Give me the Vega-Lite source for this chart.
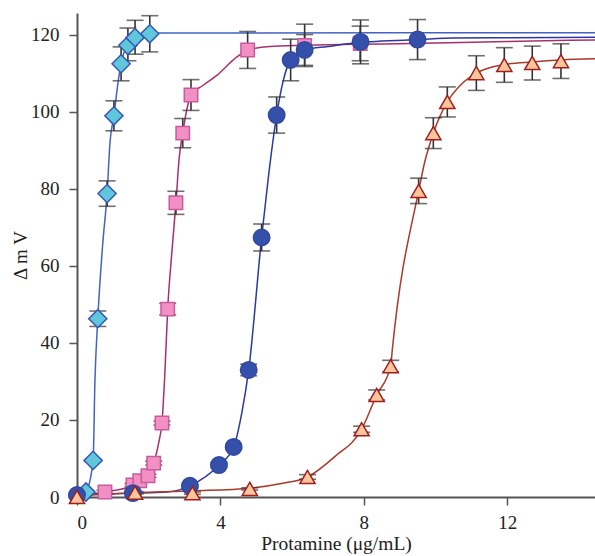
{
  "$schema": "https://vega.github.io/schema/vega-lite/v6.json",
  "autosize": {"type": "none"},
  "padding": {"left": 77, "top": 13, "right": 0, "bottom": 59},
  "width": 518,
  "height": 484,
  "background": "white",
  "config": {"view": {"stroke": null}},
  "datasets": {
    "curves": [
      {"s": "A", "x": 0, "y": 0.3}, {"s": "A", "x": 0.25, "y": 1.5}, {"s": "A", "x": 0.45, "y": 9.5}, {"s": "A", "x": 0.5, "y": 30}, {"s": "A", "x": 0.58, "y": 46.3}, {"s": "A", "x": 0.72, "y": 66}, {"s": "A", "x": 0.84, "y": 78.8}, {"s": "A", "x": 0.92, "y": 92}, {"s": "A", "x": 1.03, "y": 99}, {"s": "A", "x": 1.15, "y": 108}, {"s": "A", "x": 1.25, "y": 113.5}, {"s": "A", "x": 1.42, "y": 117.5}, {"s": "A", "x": 1.62, "y": 119.5}, {"s": "A", "x": 2.03, "y": 120.5}, {"s": "A", "x": 14.45, "y": 120.6},
      {"s": "B", "x": 0, "y": 0.3}, {"s": "B", "x": 0.78, "y": 1.3}, {"s": "B", "x": 1.56, "y": 3.0}, {"s": "B", "x": 1.98, "y": 5.5}, {"s": "B", "x": 2.14, "y": 8.8}, {"s": "B", "x": 2.3, "y": 15}, {"s": "B", "x": 2.37, "y": 19.2}, {"s": "B", "x": 2.45, "y": 32}, {"s": "B", "x": 2.53, "y": 48.8}, {"s": "B", "x": 2.65, "y": 64}, {"s": "B", "x": 2.76, "y": 76.4}, {"s": "B", "x": 2.85, "y": 88}, {"s": "B", "x": 2.95, "y": 94.5}, {"s": "B", "x": 3.05, "y": 100}, {"s": "B", "x": 3.18, "y": 104.4}, {"s": "B", "x": 3.5, "y": 106.8}, {"s": "B", "x": 3.9, "y": 109.5}, {"s": "B", "x": 4.46, "y": 114.3}, {"s": "B", "x": 4.76, "y": 116.1}, {"s": "B", "x": 5.38, "y": 117}, {"s": "B", "x": 6.35, "y": 117.3}, {"s": "B", "x": 8, "y": 117.6}, {"s": "B", "x": 10, "y": 117.9}, {"s": "B", "x": 12, "y": 118.3}, {"s": "B", "x": 14.45, "y": 118.7},
      {"s": "C", "x": 0, "y": 0.5}, {"s": "C", "x": 0.8, "y": 0.8}, {"s": "C", "x": 1.56, "y": 1.0}, {"s": "C", "x": 2.5, "y": 1.3}, {"s": "C", "x": 3.15, "y": 2.9}, {"s": "C", "x": 3.96, "y": 8.3}, {"s": "C", "x": 4.37, "y": 13}, {"s": "C", "x": 4.6, "y": 22}, {"s": "C", "x": 4.79, "y": 33}, {"s": "C", "x": 5.15, "y": 67.4}, {"s": "C", "x": 5.35, "y": 84}, {"s": "C", "x": 5.57, "y": 99.2}, {"s": "C", "x": 5.75, "y": 108}, {"s": "C", "x": 5.96, "y": 113.5}, {"s": "C", "x": 6.35, "y": 116.1}, {"s": "C", "x": 7, "y": 117}, {"s": "C", "x": 7.91, "y": 118.1}, {"s": "C", "x": 8.5, "y": 118.4}, {"s": "C", "x": 9.5, "y": 118.8}, {"s": "C", "x": 10.5, "y": 119.2}, {"s": "C", "x": 12, "y": 119.3}, {"s": "C", "x": 14.45, "y": 119.4},
      {"s": "D", "x": 0, "y": 0.3}, {"s": "D", "x": 1.62, "y": 1.1}, {"s": "D", "x": 3.22, "y": 1.6}, {"s": "D", "x": 4.82, "y": 2.3}, {"s": "D", "x": 5.7, "y": 3.5}, {"s": "D", "x": 6.43, "y": 5.2}, {"s": "D", "x": 7.19, "y": 10.5}, {"s": "D", "x": 7.94, "y": 17.6}, {"s": "D", "x": 8.36, "y": 26.5}, {"s": "D", "x": 8.75, "y": 34}, {"s": "D", "x": 8.8, "y": 38.7}, {"s": "D", "x": 9.53, "y": 79.5}, {"s": "D", "x": 9.7, "y": 87}, {"s": "D", "x": 9.94, "y": 94.5}, {"s": "D", "x": 10.33, "y": 102.6}, {"s": "D", "x": 10.7, "y": 107}, {"s": "D", "x": 11.14, "y": 110.1}, {"s": "D", "x": 11.92, "y": 112.3}, {"s": "D", "x": 12.7, "y": 113}, {"s": "D", "x": 13.5, "y": 113.5}, {"s": "D", "x": 14.45, "y": 113.8}
    ],
    "points": [
      {"s": "A", "x": 0.25, "y": 1.3, "lo": 1.0, "hi": 1.6}, {"s": "A", "x": 0.45, "y": 9.5, "lo": 9.2, "hi": 9.8}, {"s": "A", "x": 0.58, "y": 46.3, "lo": 44.3, "hi": 48.3}, {"s": "A", "x": 0.84, "y": 78.8, "lo": 75.5, "hi": 82.1}, {"s": "A", "x": 1.03, "y": 99, "lo": 95.1, "hi": 102.9}, {"s": "A", "x": 1.23, "y": 112.5, "lo": 108.1, "hi": 116.9}, {"s": "A", "x": 1.42, "y": 117.3, "lo": 113.3, "hi": 121.8}, {"s": "A", "x": 1.62, "y": 119.3, "lo": 115.0, "hi": 123.8}, {"s": "A", "x": 2.03, "y": 120.3, "lo": 115.6, "hi": 125.0},
      {"s": "B", "x": 0.78, "y": 1.3, "lo": 0.9, "hi": 1.7}, {"s": "B", "x": 1.56, "y": 3.1, "lo": 2.7, "hi": 3.5}, {"s": "B", "x": 1.75, "y": 4.2, "lo": 3.8, "hi": 4.6}, {"s": "B", "x": 1.98, "y": 5.5, "lo": 5.1, "hi": 5.9}, {"s": "B", "x": 2.14, "y": 8.8, "lo": 8.3, "hi": 9.3}, {"s": "B", "x": 2.37, "y": 19.2, "lo": 18.7, "hi": 19.7}, {"s": "B", "x": 2.53, "y": 48.8, "lo": 47.3, "hi": 50.3}, {"s": "B", "x": 2.76, "y": 76.4, "lo": 73.4, "hi": 79.4}, {"s": "B", "x": 2.95, "y": 94.5, "lo": 90.7, "hi": 98.3}, {"s": "B", "x": 3.18, "y": 104.4, "lo": 100.4, "hi": 108.4}, {"s": "B", "x": 4.76, "y": 116.1, "lo": 111.3, "hi": 120.9}, {"s": "B", "x": 6.35, "y": 117.3, "lo": 111.8, "hi": 122.8}, {"s": "B", "x": 7.9, "y": 117.8, "lo": 113.3, "hi": 122.3},
      {"s": "C", "x": 0, "y": 0.5, "lo": 0.2, "hi": 0.8}, {"s": "C", "x": 1.56, "y": 1.0, "lo": 0.7, "hi": 1.3}, {"s": "C", "x": 3.15, "y": 2.9, "lo": 2.4, "hi": 3.4}, {"s": "C", "x": 3.96, "y": 8.3, "lo": 7.7, "hi": 8.9}, {"s": "C", "x": 4.37, "y": 13, "lo": 12.4, "hi": 13.6}, {"s": "C", "x": 4.79, "y": 33, "lo": 31.5, "hi": 34.5}, {"s": "C", "x": 5.15, "y": 67.4, "lo": 63.9, "hi": 70.9}, {"s": "C", "x": 5.57, "y": 99.2, "lo": 94.5, "hi": 103.9}, {"s": "C", "x": 5.96, "y": 113.5, "lo": 108.1, "hi": 118.9}, {"s": "C", "x": 6.35, "y": 116.1, "lo": 112.1, "hi": 120.1}, {"s": "C", "x": 7.91, "y": 118.2, "lo": 112.5, "hi": 123.9}, {"s": "C", "x": 9.5, "y": 118.8, "lo": 113.6, "hi": 124.0},
      {"s": "D", "x": 0, "y": 0, "lo": -0.2, "hi": 0.2}, {"s": "D", "x": 1.62, "y": 1.1, "lo": 0.8, "hi": 1.4}, {"s": "D", "x": 3.22, "y": 1.0, "lo": 0.7, "hi": 1.3}, {"s": "D", "x": 4.82, "y": 2.1, "lo": 1.8, "hi": 2.4}, {"s": "D", "x": 6.43, "y": 5.2, "lo": 4.6, "hi": 5.8}, {"s": "D", "x": 7.94, "y": 17.6, "lo": 16.8, "hi": 18.4}, {"s": "D", "x": 8.36, "y": 26.5, "lo": 25.2, "hi": 27.8}, {"s": "D", "x": 8.75, "y": 34, "lo": 32.5, "hi": 35.5}, {"s": "D", "x": 9.53, "y": 79.5, "lo": 76.2, "hi": 82.8}, {"s": "D", "x": 9.94, "y": 94.5, "lo": 90.5, "hi": 98.5}, {"s": "D", "x": 10.33, "y": 102.6, "lo": 98.7, "hi": 106.5}, {"s": "D", "x": 11.14, "y": 110.1, "lo": 105.6, "hi": 114.6}, {"s": "D", "x": 11.92, "y": 112.2, "lo": 107.7, "hi": 116.7}, {"s": "D", "x": 12.7, "y": 112.7, "lo": 108.3, "hi": 117.1}, {"s": "D", "x": 13.5, "y": 113.2, "lo": 108.7, "hi": 117.7}
    ]
  },
  "encoding": {
    "x": {
      "field": "x", "type": "quantitative",
      "scale": {"domain": [0, 14.45], "nice": false, "zero": false},
      "axis": {
        "title": "Protamine (μg/mL)", "values": [0, 4, 8, 12], "grid": false,
        "domainColor": "#555", "domainWidth": 2, "tickColor": "#555", "tickWidth": 1.5, "tickSize": 8,
        "labelFont": "Liberation Serif", "labelFontSize": 19, "labelColor": "#222", "labelPadding": 8,
        "titleFont": "Liberation Serif", "titleFontSize": 19.5, "titleFontWeight": "normal", "titleColor": "#222", "titlePadding": 2
      }
    },
    "y": {
      "field": "y", "type": "quantitative",
      "scale": {"domain": [0, 125.7], "nice": false, "zero": false},
      "axis": {
        "title": "Δ m V", "values": [0, 20, 40, 60, 80, 100, 120], "grid": false,
        "domainColor": "#555", "domainWidth": 2, "tickColor": "#555", "tickWidth": 1.5, "tickSize": 8,
        "labelFont": "Liberation Serif", "labelFontSize": 19, "labelColor": "#222", "labelPadding": 10,
        "titleFont": "Liberation Serif", "titleFontSize": 19, "titleFontWeight": "normal", "titleColor": "#222", "titlePadding": 0
      }
    }
  },
  "layer": [
    {
      "data": {"name": "curves"},
      "mark": {"type": "line", "interpolate": "monotone", "strokeWidth": 1.5},
      "encoding": {
        "color": {"field": "s", "type": "nominal", "legend": null,
          "scale": {"domain": ["A", "B", "C", "D"], "range": ["#4463c2", "#a8306e", "#2a3a9e", "#a83a2a"]}}
      }
    },
    {
      "data": {"name": "points"},
      "mark": {"type": "errorbar", "ticks": {"size": 17}, "color": "#333", "thickness": 1.6},
      "encoding": {
        "y": {"field": "lo", "type": "quantitative"},
        "y2": {"field": "hi"}
      }
    },
    {
      "data": {"name": "points"},
      "transform": [{"filter": "datum.s === 'A'"}],
      "mark": {"type": "point", "shape": "diamond", "size": 330, "filled": true, "opacity": 1, "fill": "#5fc6dc", "stroke": "#3858b0", "strokeWidth": 1.5}
    },
    {
      "data": {"name": "points"},
      "transform": [{"filter": "datum.s === 'B'"}],
      "mark": {"type": "point", "shape": "square", "size": 180, "filled": true, "opacity": 1, "fill": "#f28fc3", "stroke": "#c85a9e", "strokeWidth": 1.5}
    },
    {
      "data": {"name": "points"},
      "transform": [{"filter": "datum.s === 'C'"}],
      "mark": {"type": "point", "shape": "circle", "size": 270, "filled": true, "opacity": 1, "fill": "#3550aa", "stroke": "#3048a0", "strokeWidth": 1.5}
    },
    {
      "data": {"name": "points"},
      "transform": [{"filter": "datum.s === 'D'"}],
      "mark": {"type": "point", "shape": "triangle-up", "size": 230, "filled": true, "opacity": 1, "fill": "#fcc69a", "stroke": "#a01e1e", "strokeWidth": 1.5}
    }
  ]
}
